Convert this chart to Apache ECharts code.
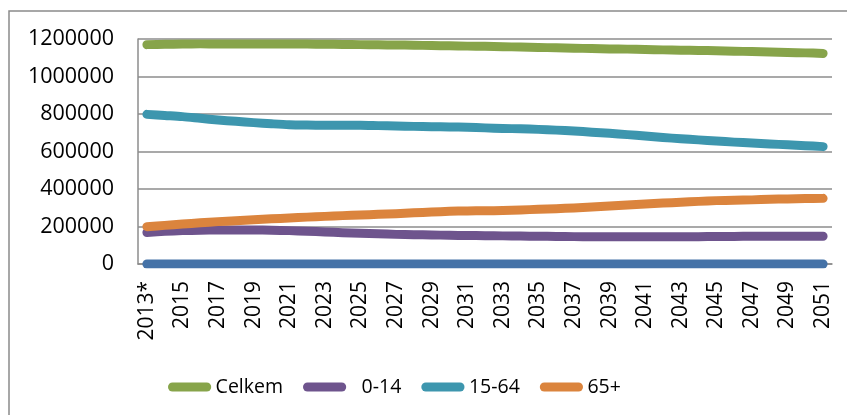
<!DOCTYPE html>
<html><head><meta charset="utf-8">
<script src="https://cdn.jsdelivr.net/npm/echarts@6/dist/echarts.min.js"></script>
<style>html,body{margin:0;padding:0;background:#fff}#c{width:847px;height:415px}</style>
</head><body><div id="c"></div>
<script>
const years = ["2013*","2014","2015","2016","2017","2018","2019","2020","2021","2022","2023","2024","2025","2026","2027","2028","2029","2030","2031","2032","2033","2034","2035","2036","2037","2038","2039","2040","2041","2042","2043","2044","2045","2046","2047","2048","2049","2050","2051"];
const baseSeries = [0,0,0,0,0,0,0,0,0,0,0,0,0,0,0,0,0,0,0,0,0,0,0,0,0,0,0,0,0,0,0,0,0,0,0,0,0,0,0];
const celkem = [1170000,1172000,1173000,1174000,1174000,1174000,1174000,1174000,1173000,1173000,1172000,1171000,1170000,1169000,1168000,1167000,1165000,1164000,1162000,1161000,1159000,1157000,1155000,1153000,1151000,1149000,1147000,1146000,1144000,1142000,1140000,1139000,1137000,1135000,1133000,1131000,1128000,1126000,1123000];
const age0_14 = [168000,174000,178000,180000,181000,181000,181000,180000,178000,175000,171000,167000,164000,161000,158000,156000,155000,153000,152000,151000,150000,149000,148000,147000,146000,146000,146000,146000,146000,146000,146000,146000,147000,147000,148000,148000,148000,148000,148000];
const age15_64 = [798000,792000,786000,777000,768000,761000,754000,748000,743000,741000,740000,740000,740000,738000,736000,734000,732000,731000,729000,726000,723000,721000,718000,714000,709000,703000,697000,690000,683000,675000,668000,662000,656000,650000,645000,640000,636000,631000,626000];
const age65 = [199000,206000,213000,220000,226000,231000,236000,241000,245000,250000,254000,258000,261000,265000,268000,273000,277000,281000,283000,284000,285000,288000,292000,295000,299000,304000,309000,315000,320000,325000,329000,334000,338000,340000,342000,345000,347000,349000,350000];
const yTicks = {min:0, max:1200000, interval:200000};

const FONT = "'Open Sans', 'Liberation Sans', Arial, sans-serif";
const NARROW = "'Liberation Sans Narrow', 'Open Sans', sans-serif";
const chart = echarts.init(document.getElementById('c'), null, {renderer:'canvas'});
const mk = (name, data, color) => ({
  name, type:'line', data, smooth:0.3, showSymbol:false, symbol:'none',
  lineStyle:{color, width:9, cap:'round', join:'round'}, itemStyle:{color},
  emphasis:{disabled:true}
});
const capsule = 'path://M5,0 H43 A5,5 0 0 1 43,10 H5 A5,5 0 0 1 5,0 Z';
chart.setOption({
  animation:false,
  graphic:[{type:'rect', shape:{x:9, y:11, width:900, height:500}, style:{fill:'none', stroke:'#8a8a8a', lineWidth:1.5}, silent:true}],
  grid:{left:138, right:15, top:39, bottom:151, containLabel:false},
  legend:{
    left:163, top:372, itemWidth:50, itemHeight:9, itemGap:20, icon:capsule,
    textStyle:{fontFamily:FONT, fontSize:19.5, color:'#000', padding:[0,0,0,-4]},
    data:[{name:'Celkem'},{name:'0-14', textStyle:{padding:[0,0,0,7]}},{name:'15-64'},{name:'65+'}]
  },
  xAxis:{
    type:'category', data:years, boundaryGap:true,
    axisLine:{lineStyle:{color:'#8c8c8c', width:1.5}},
    axisTick:{show:false},
    axisLabel:{interval:1, rotate:90, fontFamily:NARROW, fontSize:21, color:'#000', margin:17, hideOverlap:false}
  },
  yAxis:{
    type:'value', min:yTicks.min, max:yTicks.max, interval:yTicks.interval,
    axisLine:{show:true, lineStyle:{color:'#8c8c8c', width:1.5}},
    axisTick:{show:false},
    splitLine:{lineStyle:{color:'#8c8c8c', width:1.5}},
    axisLabel:{fontFamily:FONT, fontSize:21.5, color:'#000', margin:24, formatter:v => String(v)}
  },
  series:[
    mk('base', baseSeries, '#4572A7'),
    mk('Celkem', celkem, '#87A44A'),
    mk('0-14', age0_14, '#6E548D'),
    mk('15-64', age15_64, '#3D96AE'),
    mk('65+', age65, '#DB843D')
  ]
});
</script></body></html>
